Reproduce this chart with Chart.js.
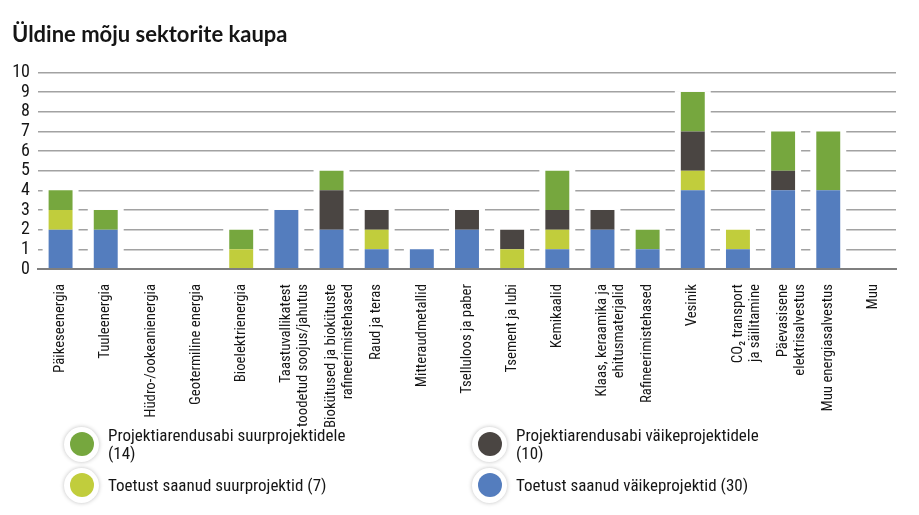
<!DOCTYPE html>
<html lang="et">
<head>
<meta charset="utf-8">
<title>Üldine mõju sektorite kaupa</title>
<script src="https://cdn.jsdelivr.net/npm/chart.js@4.4.1/dist/chart.umd.min.js"></script>
<style>
  html, body { margin: 0; padding: 0; background: #fff; }
  #wrap { position: relative; width: 919px; height: 515px; }
  #legend { position: absolute; left: 0; top: 0; width: 919px; height: 515px; pointer-events: none;
    font-family: "Roboto Condensed", Lato, sans-serif; font-size: 17px; color: #151515; }
  .item { position: absolute; display: flex; align-items: center; }
  .dot { width: 35px; height: 35px; border-radius: 50%; background: #fff;
    box-shadow: 0 0 4px rgba(0,0,0,0.25); display: flex; align-items: center; justify-content: center; flex: none; }
  .dot span { width: 24px; height: 24px; border-radius: 50%; display: block; }
  .txt { margin-left: 9px; line-height: 18px; white-space: nowrap; }
</style>
</head>
<body>
<div id="wrap">
  <canvas id="chart"></canvas>
  <div id="legend"></div>
</div>
<script>
const labels = [
  "Päikeseenergia",
  "Tuuleenergia",
  "Hüdro-/ookeanienergia",
  "Geotermiline energia",
  "Bioelektrienergia",
  ["Taastuvallikatest", "toodetud soojus/jahutus"],
  ["Biokütused ja biokütuste", "rafineerimistehased"],
  "Raud ja teras",
  "Mitteraudmetallid",
  "Tselluloos ja paber",
  "Tsement ja lubi",
  "Kemikaalid",
  ["Klaas, keraamika ja", "ehitusmaterjalid"],
  "Rafineerimistehased",
  "Vesinik",
  ["CO₂ transport", "ja säilitamine"],
  ["Päevasisene", "elektrisalvestus"],
  "Muu energiasalvestus",
  "Muu",
];

// stacked from the bottom up
const smallFunded = [2, 2, 0, 0, 0, 3, 2, 1, 1, 2, 0, 1, 2, 1, 4, 1, 4, 4, 0];
const largeFunded = [1, 0, 0, 0, 1, 0, 0, 1, 0, 0, 1, 1, 0, 0, 1, 1, 0, 0, 0];
const smallDevAid = [0, 0, 0, 0, 0, 0, 2, 1, 0, 1, 1, 1, 1, 0, 2, 0, 1, 0, 0];
const largeDevAid = [1, 1, 0, 0, 1, 0, 1, 0, 0, 0, 0, 2, 0, 1, 2, 0, 2, 3, 0];

const seriesNames = [
  ["Toetust saanud väikeprojektid (30)"],
  ["Toetust saanud suurprojektid (7)"],
  ["Projektiarendusabi väikeprojektidele", "(10)"],
  ["Projektiarendusabi suurprojektidele", "(14)"],
];
const yTicks = [0, 1, 2, 3, 4, 5, 6, 7, 8, 9, 10];

const colors = ["#547dbe", "#c1cd3c", "#4a4542", "#76a73e"];
const FONT = "'Roboto Condensed', Lato, sans-serif";

// white gap behind each bar so grid lines stop short of it
const barGaps = {
  id: "barGaps",
  beforeDatasetsDraw(chart) {
    const { ctx, chartArea } = chart;
    ctx.save();
    ctx.fillStyle = "#fff";
    chart.data.labels.forEach((_, i) => {
      let top = chartArea.bottom;
      let x = null;
      let w = 0;
      chart.data.datasets.forEach((ds, d) => {
        const el = chart.getDatasetMeta(d).data[i];
        if (!el || !ds.data[i]) return;
        top = Math.min(top, el.y);
        x = el.x;
        w = el.width;
      });
      if (x === null) return;
      ctx.fillRect(x - w / 2 - 6, top - 1, w + 12, chartArea.bottom - 2 - top + 1);
    });
    ctx.restore();
  },
};

const allSeries = [smallFunded, largeFunded, smallDevAid, largeDevAid];

new Chart(document.getElementById("chart"), {
  type: "bar",
  data: {
    labels: labels,
    datasets: allSeries.map((data, i) => ({
      label: seriesNames[i].join(" "),
      data: data,
      backgroundColor: colors[i],
      borderWidth: 0,
      categoryPercentage: 1,
      barPercentage: 0.53,
    })),
  },
  options: {
    responsive: true,
    maintainAspectRatio: false,
    animation: false,
    layout: { padding: { left: 12, right: 23, top: 10, bottom: 66 } },
    plugins: {
      legend: { display: false },
      tooltip: { enabled: false },
      title: {
        display: true,
        text: "Üldine mõju sektorite kaupa",
        align: "start",
        color: "#151515",
        font: { family: "Lato, sans-serif", size: 22, weight: "bold" },
        padding: { top: 12, bottom: 24 },
      },
    },
    scales: {
      x: {
        stacked: true,
        grid: { display: false },
        border: { display: true, color: "#7f7f7f", width: 2, z: 1 },
        ticks: {
          autoSkip: false,
          minRotation: 90,
          maxRotation: 90,
          padding: 7,
          color: "#151515",
          font: { family: FONT, size: 14.8, lineHeight: 1.15 },
        },
        afterFit(scale) {
          scale.height = 180;
        },
      },
      y: {
        stacked: true,
        min: yTicks[0],
        max: yTicks[yTicks.length - 1],
        afterBuildTicks(scale) {
          scale.ticks = yTicks.map((v) => ({ value: v }));
        },
        grid: { color: "#a2a2a2", lineWidth: 1.5, drawTicks: false },
        border: { display: false },
        ticks: {
          autoSkip: false,
          padding: 8,
          color: "#151515",
          font: { family: FONT, size: 18 },
        },
        afterFit(scale) {
          scale.width = 26;
        },
      },
    },
  },
  plugins: [barGaps],
});

// legend: two columns, top row = development aid, bottom row = funded projects
const legendSpots = [
  { s: 3, left: 64, cy: 444 },
  { s: 2, left: 472, cy: 444 },
  { s: 1, left: 64, cy: 485 },
  { s: 0, left: 472, cy: 485 },
];
const legend = document.getElementById("legend");
legendSpots.forEach((p) => {
  const item = document.createElement("div");
  item.className = "item";
  item.style.left = p.left + "px";
  item.innerHTML =
    `<div class="dot"><span style="background:${colors[p.s]}"></span></div>` +
    `<div class="txt">${seriesNames[p.s].join("<br>")}</div>`;
  legend.appendChild(item);
  item.style.top = p.cy - item.offsetHeight / 2 + "px";
});
</script>
</body>
</html>
